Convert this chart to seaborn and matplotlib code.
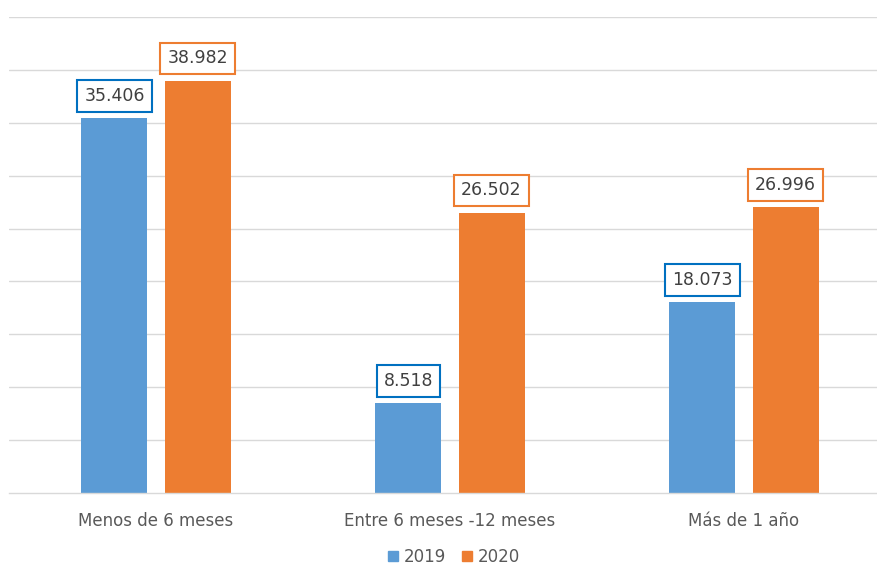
import matplotlib
matplotlib.use("Agg")
import matplotlib.pyplot as plt
import seaborn as sns
import pandas as pd

# data
categories = ["Menos de 6 meses", "Entre 6 meses -12 meses", "Más de 1 año"]
years = ["2019", "2020"]
values_2019 = [35406, 8518, 18073]
values_2020 = [38982, 26502, 26996]

bar_colors = {"2019": "#5B9BD5", "2020": "#ED7D31"}
box_colors = {"2019": "#0070C0", "2020": "#ED7D31"}

df = pd.DataFrame({
    "categoria": categories * 2,
    "year": ["2019"] * 3 + ["2020"] * 3,
    "valor": values_2019 + values_2020,
})

sns.set_style("white")
plt.rcParams["font.family"] = ["DejaVu Sans"]

W, H = 877, 569
fig = plt.figure(figsize=(W / 100, H / 100), dpi=100)
ax = fig.add_axes([9 / W, (H - 493) / H, 882 / W, 476 / H])

sns.barplot(data=df, x="categoria", y="valor", hue="year", order=categories,
            hue_order=years, palette=bar_colors, width=0.565, gap=0.205,
            saturation=1, linewidth=0, ax=ax, legend=False)

ax.set_ylim(0, 45000)
ax.set_yticks(range(5000, 45001, 5000))
ax.yaxis.grid(True, color="#D9D9D9", linewidth=1)
ax.set_axisbelow(True)
ax.set_yticklabels([])
ax.tick_params(axis="y", length=0)
for s in ["top", "right", "left"]:
    ax.spines[s].set_visible(False)
ax.spines["bottom"].set_color("#D9D9D9")
ax.spines["bottom"].set_linewidth(1)
ax.set_xlabel("")
ax.set_ylabel("")
ax.tick_params(axis="x", length=0, pad=14, labelsize=12, labelcolor="#595959")

# data labels with coloured boxes
for container, yr in zip(ax.containers, years):
    for bar in container:
        h = bar.get_height()
        x = bar.get_x() + bar.get_width() / 2
        ax.annotate(f"{h:,.0f}".replace(",", "."), xy=(x, h),
                    xytext=(0, 9.5), textcoords="offset points",
                    ha="center", va="bottom", fontsize=12.5, color="#404040",
                    bbox=dict(boxstyle="square,pad=0.4", fc="white",
                              ec=box_colors[yr], lw=1.5))

handles = [plt.Rectangle((0, 0), 1, 1, color=bar_colors[y]) for y in years]
fig.legend(handles, years, loc="center", bbox_to_anchor=(454 / W, 1 - 557 / H),
           ncol=2, frameon=False, fontsize=12, handlelength=0.6,
           handleheight=0.6, handletextpad=0.3, columnspacing=1.0,
           labelcolor="#595959", borderpad=0.1)

fig.savefig("out.png", dpi=100)
